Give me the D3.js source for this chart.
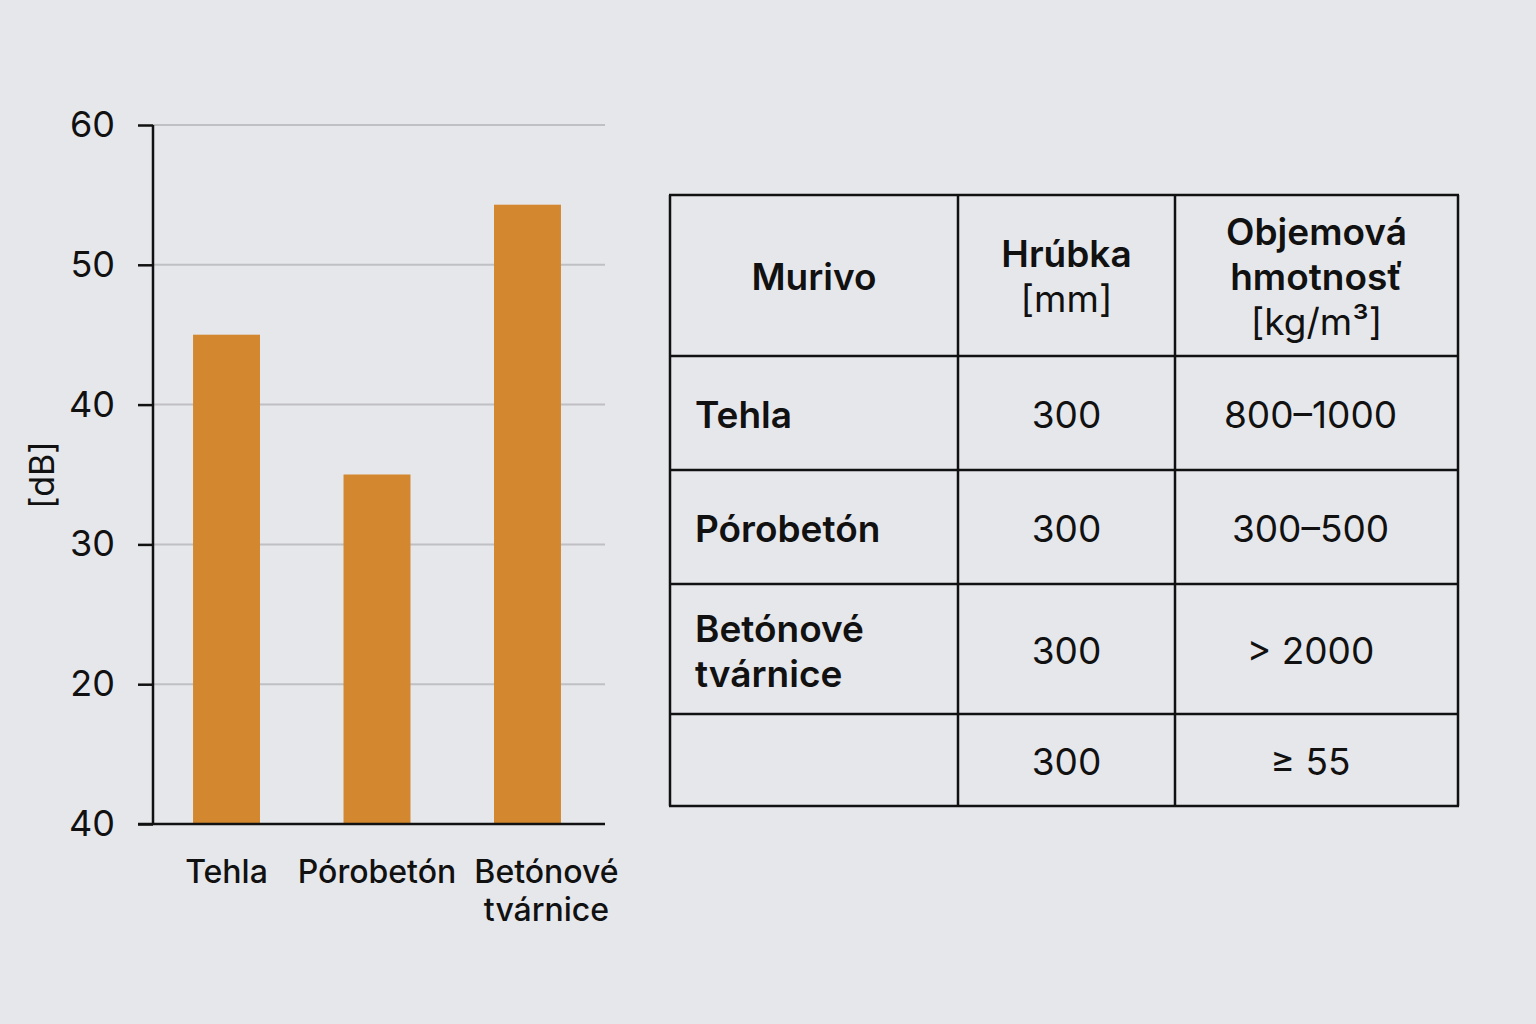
<!DOCTYPE html>
<html>
<head>
<meta charset="utf-8">
<script src="https://cdn.jsdelivr.net/npm/d3@7"></script>
<style>
  html, body { margin: 0; padding: 0; background: #e6e7eb; }
  svg { display: block; font-family: Inter, Roboto, "Noto Sans", sans-serif; }
</style>
</head>
<body>
<svg id="chart" width="1536" height="1024"></svg>
<script>
// Chart data
var categories = ['Tehla', 'Pórobetón', 'Betónové\ntvárnice'];
var values = [45, 35, 54.3];
var tickValues = [10, 20, 30, 40, 50, 60];
var tickLabels = ['40', '20', '30', '40', '50', '60'];

// Table data
var tableHeaders = [['Murivo'], ['Hrúbka', '[mm]'], ['Objemová', 'hmotnosť', '[kg/m³]']];
var headerBold = [[true], [true, false], [true, true, false]];
var rowNames = [['Tehla'], ['Pórobetón'], ['Betónové', 'tvárnice'], []];
var thickness = ['300', '300', '300', '300'];
var density = ['800–1000', '300–500', '> 2000', '≥ 55'];

var svg = d3.select('#chart');
var ink = '#111111';

// ---- bar chart ----
var y = d3.scaleLinear().domain([10, 60]).range([824, 125]);
var x = d3.scaleBand()
    .domain(categories)
    .range([153, 601])
    .paddingInner(0.555)
    .paddingOuter(0.266);

var plot = svg.append('g');

// gridlines (baseline is drawn by the axis)
plot.append('g')
    .selectAll('line')
    .data(tickValues.filter(function(d) { return d > 10; }))
    .enter().append('line')
    .attr('x1', 153).attr('x2', 605)
    .attr('y1', function(d) { return y(d); })
    .attr('y2', function(d) { return y(d); })
    .attr('stroke', '#bfc0c4')
    .attr('stroke-width', 2);

plot.append('g')
    .selectAll('rect')
    .data(values)
    .enter().append('rect')
    .attr('x', function(d, i) { return x(categories[i]); })
    .attr('width', x.bandwidth())
    .attr('y', function(d) { return y(d); })
    .attr('height', function(d) { return y(10) - y(d); })
    .attr('fill', '#d3882f');

var yAxis = d3.axisLeft(y)
    .tickValues(tickValues)
    .tickSize(15)
    .tickPadding(23)
    .tickFormat(function(d, i) { return tickLabels[i]; });

var yg = plot.append('g')
    .attr('transform', 'translate(153,0)')
    .call(yAxis);
yg.select('.domain').remove();
yg.append('line')
    .attr('x1', 0).attr('x2', 0)
    .attr('y1', y(60)).attr('y2', y(10))
    .attr('stroke', ink).attr('stroke-width', 2.5);
yg.selectAll('.tick line').attr('stroke', ink).attr('stroke-width', 2.5);
yg.selectAll('.tick text')
    .attr('fill', ink)
    .style('font-size', '36px')
    .style('font-family', 'Inter, Roboto, sans-serif');

// x axis baseline
plot.append('line')
    .attr('x1', 138).attr('x2', 605)
    .attr('y1', y(10)).attr('y2', y(10))
    .attr('stroke', ink).attr('stroke-width', 2.5);

// category labels
plot.append('g')
    .selectAll('text')
    .data(categories)
    .enter().append('text')
    .attr('text-anchor', 'middle')
    .attr('fill', ink)
    .style('font-size', '32px')
    .style('font-weight', 500)
    .attr('transform', function(d) {
        var cx = x(d) + x.bandwidth() / 2;
        if (d.indexOf('\n') !== -1) cx += 19;
        return 'translate(' + cx + ',883)';
    })
    .each(function(d) {
        var t = d3.select(this);
        d.split('\n').forEach(function(line, i) {
            t.append('tspan').attr('x', 0).attr('dy', i ? 38 : 0).text(line);
        });
    });

// y label
svg.append('text')
    .attr('transform', 'translate(42,475) rotate(-90)')
    .attr('text-anchor', 'middle')
    .attr('dy', '0.35em')
    .attr('fill', ink)
    .style('font-size', '34px')
    .text('[dB]');

// ---- table ----
var colEdges = [670, 958, 1175, 1458];
var rowEdges = [195, 356, 470, 584, 714, 806];
var lineH = 45;
var table = svg.append('g');

function cellText(lines, bold, cx, cy, anchor) {
    var t = table.append('text')
        .attr('text-anchor', anchor)
        .attr('fill', ink)
        .style('font-size', '37px');
    var top = cy - (lines.length - 1) * lineH / 2;
    lines.forEach(function(line, i) {
        t.append('tspan')
            .attr('x', cx)
            .attr('y', top + i * lineH)
            .attr('dy', '0.36em')
            .style('font-weight', bold[i] ? 600 : 400)
            .text(line);
    });
}

function colMid(c) { return (colEdges[c] + colEdges[c + 1]) / 2; }
function rowMid(r) { return (rowEdges[r] + rowEdges[r + 1]) / 2; }

tableHeaders.forEach(function(lines, c) {
    cellText(lines, headerBold[c], colMid(c), rowMid(0) + 1, 'middle');
});

rowNames.forEach(function(lines, r) {
    var cy = rowMid(r + 1) + 2;
    cellText(lines, lines.map(function() { return true; }), colEdges[0] + 25, cy, 'start');
    cellText([thickness[r]], [false], colMid(1), cy, 'middle');
    cellText([density[r]], [false], colMid(2) - 6, cy, 'middle');
});

// grid lines
table.selectAll('.hline')
    .data(rowEdges)
    .enter().append('line')
    .attr('x1', colEdges[0] - 1).attr('x2', colEdges[3] + 1)
    .attr('y1', function(d) { return d; })
    .attr('y2', function(d) { return d; })
    .attr('stroke', ink).attr('stroke-width', 2.5);

table.selectAll('.vline')
    .data(colEdges)
    .enter().append('line')
    .attr('y1', rowEdges[0]).attr('y2', rowEdges[rowEdges.length - 1])
    .attr('x1', function(d) { return d; })
    .attr('x2', function(d) { return d; })
    .attr('stroke', ink).attr('stroke-width', 2.5);
</script>
</body>
</html>
